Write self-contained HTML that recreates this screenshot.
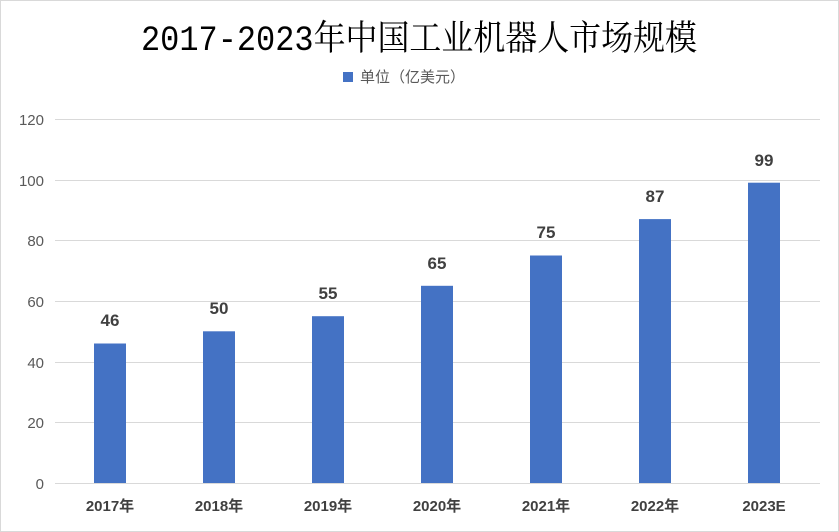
<!DOCTYPE html>
<html><head><meta charset="utf-8"><style>
html,body{margin:0;padding:0;background:#fff;}
svg{display:block;}
</style></head><body>
<svg width="839" height="532" xmlns="http://www.w3.org/2000/svg">
<rect x="0.5" y="0.5" width="838" height="531" fill="#fff" stroke="#d9d9d9"/>
<text x="141" y="50" textLength="556" lengthAdjust="spacingAndGlyphs" font-family="'Liberation Mono','Noto Serif CJK SC',serif" font-size="35" fill="#000">2017-2023年中国工业机器人市场规模</text>
<rect x="343" y="72" width="10" height="10" fill="#4472c4"/>
<text x="360" y="82" font-family="'Liberation Sans','Noto Sans CJK SC',sans-serif" font-size="15" fill="#595959">单位（亿美元）</text>
<g stroke="#d9d9d9" stroke-width="1">
<line x1="55" x2="820" y1="119.5" y2="119.5"/>
<line x1="55" x2="820" y1="180.5" y2="180.5"/>
<line x1="55" x2="820" y1="240.5" y2="240.5"/>
<line x1="55" x2="820" y1="301.5" y2="301.5"/>
<line x1="55" x2="820" y1="362.5" y2="362.5"/>
<line x1="55" x2="820" y1="422.5" y2="422.5"/>
<line x1="55" x2="820" y1="483.5" y2="483.5"/>
</g>
<g font-family="'Liberation Sans',sans-serif" font-size="15" fill="#595959" text-anchor="end">
<text x="44" y="125">120</text><text x="44" y="186">100</text><text x="44" y="246">80</text>
<text x="44" y="307">60</text><text x="44" y="368">40</text><text x="44" y="428">20</text><text x="44" y="489">0</text>
</g>
<g fill="#4472c4">
<rect x="94" y="343.5" width="32" height="139.5"/>
<rect x="203" y="331.3" width="32" height="151.7"/>
<rect x="312" y="316.2" width="32" height="166.8"/>
<rect x="421" y="285.8" width="32" height="197.2"/>
<rect x="530" y="255.5" width="32" height="227.5"/>
<rect x="639" y="219.1" width="32" height="263.9"/>
<rect x="748" y="182.7" width="32" height="300.3"/>
</g>
<g font-family="'Liberation Sans',sans-serif" font-size="17" font-weight="bold" fill="#404040" text-anchor="middle">
<text x="110" y="326">46</text><text x="219" y="314">50</text><text x="328" y="299">55</text>
<text x="437" y="269">65</text><text x="546" y="238">75</text><text x="655" y="202">87</text><text x="764" y="166">99</text>
</g>
<g font-family="'Liberation Sans','Noto Sans CJK SC',sans-serif" font-size="15" font-weight="bold" fill="#404040" text-anchor="middle">
<text x="110" y="511">2017年</text><text x="219" y="511">2018年</text><text x="328" y="511">2019年</text>
<text x="437" y="511">2020年</text><text x="546" y="511">2021年</text><text x="655" y="511">2022年</text><text x="764" y="511">2023E</text>
</g>
</svg>
</body></html>
